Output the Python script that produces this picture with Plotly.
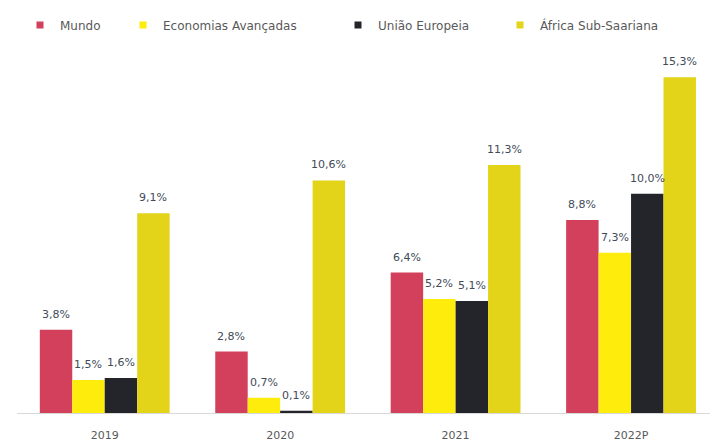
import plotly.graph_objects as go

anos = ["2019", "2020", "2021", "2022P"]
series = ["Mundo", "Economias Avançadas", "União Europeia", "África Sub-Saariana"]
mundo = [3.8, 2.8, 6.4, 8.8]
economias_avancadas = [1.5, 0.7, 5.2, 7.3]
uniao_europeia = [1.6, 0.1, 5.1, 10.0]
africa_sub_saariana = [9.1, 10.6, 11.3, 15.3]

valores = [mundo, economias_avancadas, uniao_europeia, africa_sub_saariana]
cores = ["#d2405b", "#fdec0c", "#24242b", "#e3d41a"]

# layout geometry
W, H = 710, 446
ML, MR, MT, MB = 17, 0, 62, 33
X_RANGE = [-0.5, 3.45]
BARGAP = 0.26
FONTE = "DejaVu Sans"

# left edge (px) of each legend entry's text
legenda_texto_px = [60, 163, 378, 540]


def rotulo(v):
    return f"{v:.1f}%".replace(".", ",")


fig = go.Figure()
for k, (nome, vals, cor) in enumerate(zip(series, valores, cores)):
    leg = "legend" if k == 0 else f"legend{k + 1}"
    fig.add_trace(go.Bar(
        name=nome,
        x=anos,
        y=vals,
        marker=dict(color=cor, line=dict(width=0)),
        showlegend=False,
    ))
    # legend entry with a small square symbol
    fig.add_trace(go.Scatter(
        name=nome,
        x=[None],
        y=[None],
        mode="markers",
        marker=dict(symbol="square", size=7, color=cor),
        legend=leg,
        showlegend=True,
        hoverinfo="skip",
    ))

# value labels above each bar (category axis positions are 0..n-1)
plot_w = W - ML - MR
px_por_cat = plot_w / (X_RANGE[1] - X_RANGE[0])
largura_barra = px_por_cat * (1 - BARGAP) / len(series)
anotacoes = []
for k, vals in enumerate(valores):
    desloc = (k - (len(series) - 1) / 2) * largura_barra
    for i, v in enumerate(vals):
        anotacoes.append(dict(
            x=i, y=v, xref="x", yref="y",
            text=rotulo(v),
            showarrow=False,
            xshift=desloc,
            yshift=7,
            yanchor="bottom",
            font=dict(family=FONTE, size=11, color="#414b58"),
        ))

legendas = {}
for k, tx in enumerate(legenda_texto_px):
    key = "legend" if k == 0 else f"legend{k + 1}"
    legendas[key] = dict(
        orientation="h",
        x=(tx - 40 - ML) / plot_w,
        xanchor="left",
        y=1 + (MT - 25) / (H - MT - MB),
        yanchor="middle",
        font=dict(family=FONTE, size=12, color="#595959"),
        itemwidth=30,
        bgcolor="rgba(0,0,0,0)",
    )

fig.update_layout(
    width=W,
    height=H,
    barmode="group",
    bargap=BARGAP,
    bargroupgap=0,
    plot_bgcolor="white",
    paper_bgcolor="white",
    margin=dict(l=ML, r=MR, t=MT, b=MB),
    font=dict(family=FONTE, color="#595959"),
    annotations=anotacoes,
    xaxis=dict(
        type="category",
        range=X_RANGE,
        showgrid=False,
        showline=True,
        linecolor="#d9d9d9",
        linewidth=1,
        ticks="",
        ticklabelstandoff=12,
        tickfont=dict(family=FONTE, size=11, color="#595959"),
    ),
    yaxis=dict(
        range=[0, 16],
        visible=False,
        showgrid=False,
        zeroline=False,
    ),
    **legendas,
)

fig.write_html("out.html")
